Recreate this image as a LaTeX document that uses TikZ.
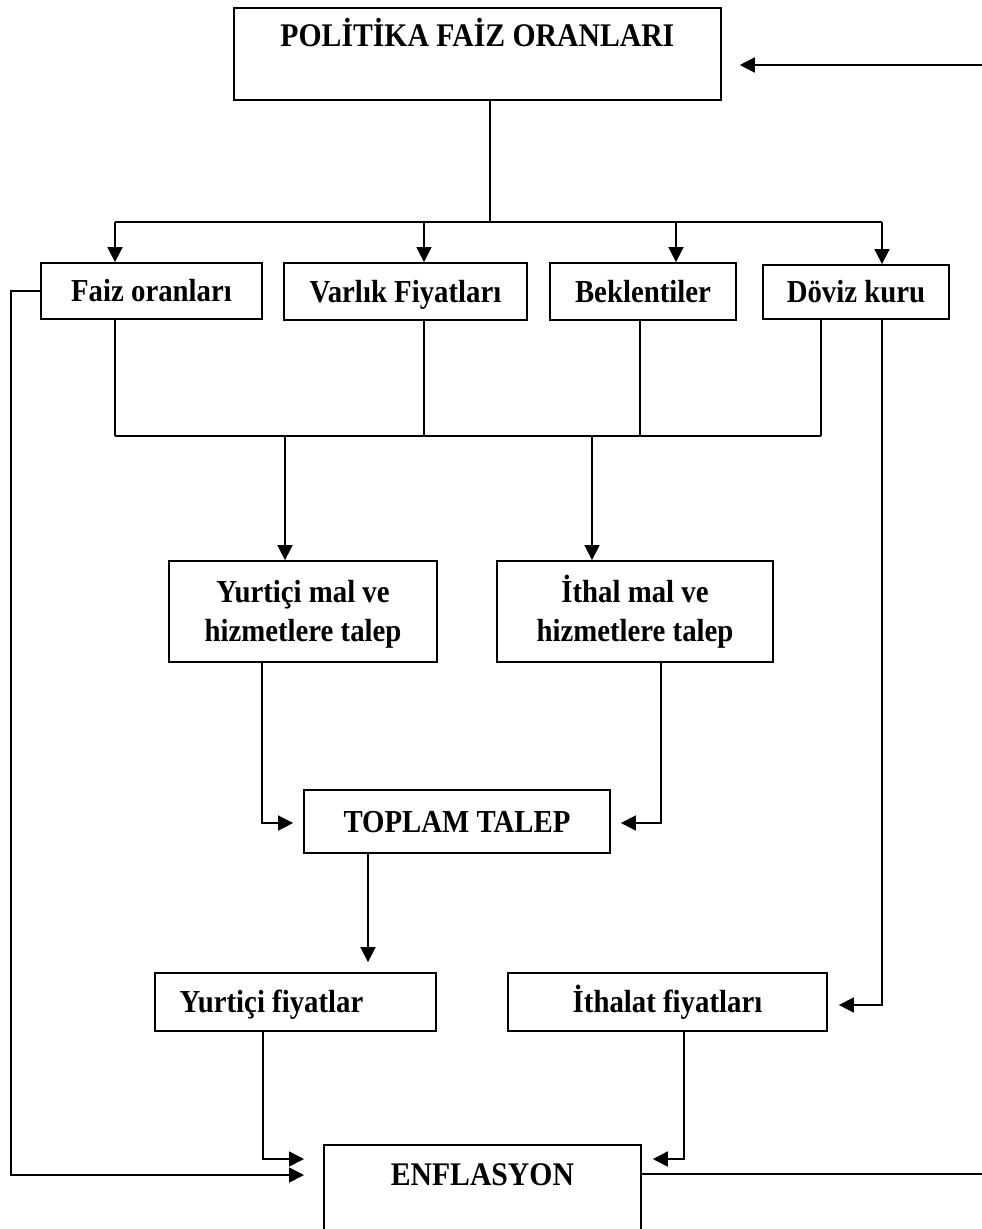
\documentclass[tikz,border=0pt]{standalone}
\usepackage{fontspec}
\setmainfont{Liberation Serif}
\newfontfamily\boxfont{Liberation Serif}[FakeStretch=0.9]
\usetikzlibrary{
    arrows.meta,                      % Triangle uclari
    calc
}
\tikzset{
    block/.style={
        rectangle, draw, line width=1.8pt,
        inner sep=0pt, align=center,
        font=\boxfont\bfseries\fontsize{32}{39}\selectfont
    },
    oneline/.style={
        block, text height=21pt, text depth=0pt
    },
    bigbox/.style={
        block, anchor=north west,
        font=\boxfont\bfseries\fontsize{33}{39}\selectfont
    },
    link/.style={
        line width=1.7pt
    },
    arrow/.style={
        link, -{Triangle[length=15pt,width=15pt]}
    }
}

\begin{document}
\begin{tikzpicture}[x=1pt, y=-1pt]

        \useasboundingbox (0,0) rectangle (982,1229);
        \clip (0,0) rectangle (982,1229);

        % Ust kutu
        \node[bigbox, minimum width=487pt, text height=39pt, text depth=53pt]
            (pfo) at (233,7) {POLİTİKA FAİZ ORANLARI};

        % Aktarim kanallari
        \node[oneline, minimum width=221pt, minimum height=56pt] (faiz) at (151.5,291) {Faiz oranları};
        \node[oneline, minimum width=243pt, minimum height=57pt] (varlik) at (405.5,291.5) {Varlık Fiyatları};
        \node[oneline, minimum width=186pt, minimum height=57pt] (bekl) at (643,291.5) {Beklentiler};
        \node[oneline, minimum width=186pt, minimum height=54pt] (doviz) at (856,292) {Döviz kuru};

        % Talep
        \node[block, minimum width=268pt, minimum height=101pt] (yurtmal) at (303,611.5)
            {\rule{0pt}{28pt}Yurtiçi mal ve\\hizmetlere talep};
        \node[block, minimum width=276pt, minimum height=101pt] (ithmal) at (635,611.5)
            {\rule{0pt}{28pt}İthal mal ve\\hizmetlere talep};
        \node[oneline, minimum width=306pt, minimum height=63pt] (toplam) at (457,821.5) {TOPLAM TALEP};

        % Fiyatlar
        \node[oneline, minimum width=281pt, minimum height=58pt]
            (yurtfiy) at (295.5,1002) {Yurtiçi fiyatlar\rule{48pt}{0pt}};
        \node[oneline, minimum width=319pt, minimum height=58pt] (ithfiy) at (667.5,1002) {İthalat fiyatları};

        \node[bigbox, minimum width=317pt, text height=41pt, text depth=51pt]
            (enf) at (323,1144) {ENFLASYON};

        % Ust dagitim
        \coordinate (split) at (490,222);
        \coordinate (k1) at (115,222);
        \coordinate (k2) at (424,222);
        \coordinate (k3) at (676,222);
        \coordinate (k4) at (882,222);
        \draw[link] (pfo.south -| split) -- (split);
        \draw[link] (k1) -- (k4);
        \draw[arrow] (k1) -- (k1 |- faiz.north);
        \draw[arrow] (k2) -- (k2 |- varlik.north);
        \draw[arrow] (k3) -- (k3 |- bekl.north);
        \draw[arrow] (k4) -- (k4 |- doviz.north);

        % Alt toplama hatti
        \coordinate (b1) at (115,436);
        \coordinate (b2) at (424,436);
        \coordinate (b3) at (640,436);
        \coordinate (b4) at (821,436);
        \draw[link] (b1 |- faiz.south) -- (b1);
        \draw[link] (b2 |- varlik.south) -- (b2);
        \draw[link] (b3 |- bekl.south) -- (b3);
        \draw[link] (b4 |- doviz.south) -- (b4);
        \draw[link] (b1) -- (b4);
        \coordinate (d1) at (285,436);
        \coordinate (d2) at (592,436);
        \draw[arrow] (d1) -- (d1 |- yurtmal.north);
        \draw[arrow] (d2) -- (d2 |- ithmal.north);

        % Toplam talep
        \coordinate (c1) at (262,823);
        \coordinate (c2) at (661,823);
        \draw[arrow, shorten >=10pt] (c1 |- yurtmal.south) -- (c1) -- (c1 -| toplam.west);
        \draw[arrow, shorten >=10pt] (c2 |- ithmal.south) -- (c2) -- (c2 -| toplam.east);
        \coordinate (c3) at (368,900);
        \draw[arrow, shorten >=10pt] (c3 |- toplam.south) -- (c3 |- yurtfiy.north);

        % Doviz kuru -> ithalat fiyatlari
        \coordinate (c4) at (882,1005);
        \draw[arrow, shorten >=11pt] (c4 |- doviz.south) -- (c4) -- (c4 -| ithfiy.east);

        % Fiyatlar -> enflasyon
        \coordinate (c5) at (263,1159);
        \coordinate (c6) at (684,1159);
        \draw[arrow, shorten >=19pt] (c5 |- yurtfiy.south) -- (c5) -- (c5 -| enf.west);
        \draw[arrow, shorten >=11pt] (c6 |- ithfiy.south) -- (c6) -- (c6 -| enf.east);

        % Geri beslemeler
        \coordinate (fb1) at (11,1175);
        \draw[arrow, shorten >=19pt] (faiz.west) -| (fb1) -- (fb1 -| enf.west);
        \coordinate (fb2) at (1000,1174);
        \coordinate (fb3) at (1000,65);
        \draw[arrow, shorten >=18pt] (fb2 -| enf.east) -- (fb2) -- (fb3) -- (fb3 -| pfo.east);

\end{tikzpicture}
\end{document}
